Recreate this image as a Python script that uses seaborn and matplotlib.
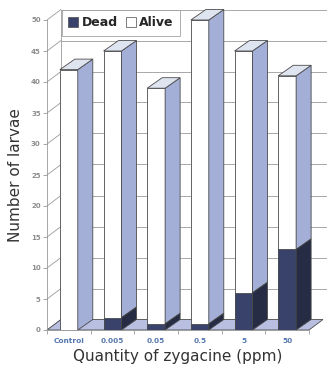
import matplotlib
matplotlib.use("Agg")
import matplotlib.pyplot as plt
from matplotlib.patches import Polygon, Patch
import numpy as np
import pandas as pd
import seaborn as sns

# Larvae counts per zygacine dose
doses = ["Control", "0.005", "0.05", "0.5", "5", "50"]
dead = [0, 2, 1, 1, 6, 13]
alive = [42, 43, 38, 49, 39, 28]
y_ticks = [0, 5, 10, 15, 20, 25, 30, 35, 40, 45, 50]

df = pd.DataFrame({"dose": doses, "dead": dead, "alive": alive})
df["total"] = df["dead"] + df["alive"]

sns.set_style("white")
plt.rcParams["font.family"] = ["DejaVu Sans"]

W, H = 327, 372
fig = plt.figure(figsize=(W / 100, H / 100), dpi=100)
# front plane of the 3-D box in pixels
x0, x1, yb, yt = 47, 309, 330, 20
ax = fig.add_axes([x0 / W, 1 - yb / H, (x1 - x0) / W, (yb - yt) / H])
ax.set_xlim(-0.5, 5.5)
ax.set_ylim(0, 50)

# depth offset of the box in data units
px_x = 6.0 / (x1 - x0)
px_y = 50.0 / (yb - yt)
DX, DY = 14 * px_x, 10.5 * px_y
# bar depth offset
BX, BY = 15 * px_x, 10.5 * px_y

grid_c = "#9a9a9a"
edge_c = "#4a4a4a"
side_alive = "#a4afd8"
top_alive = "#dfe5f0"
front_dead = "#38426a"
side_dead = "#262c44"
floor_c = "#b8bfe0"

xr = 5.5 + (W - x1) * px_x  # back wall reaches the figure edge

# floor
ax.add_patch(Polygon([(-0.5, 0), (5.5, 0), (5.5 + DX, DY), (-0.5 + DX, DY)],
                     closed=True, facecolor=floor_c, edgecolor=edge_c,
                     lw=0.6, zorder=0.5, clip_on=False))
# walls: diagonal lines on the left wall and horizontal lines on the back wall
for v in y_ticks:
    ax.plot([-0.5, -0.5 + DX], [v, v + DY], color=grid_c, lw=0.6,
            clip_on=False, zorder=0.4)
    if v > 0:
        ax.plot([-0.5 + DX, xr], [v + DY, v + DY], color=grid_c, lw=0.6,
                clip_on=False, zorder=0.4)
ax.plot([-0.5 + DX, -0.5 + DX], [DY, 50 + DY], color=grid_c, lw=0.6,
        clip_on=False, zorder=0.4)

# front faces through seaborn (alive stacked on dead)
sns.barplot(data=df, x="dose", y="total", color="white", saturation=1,
            width=0.41, edgecolor=edge_c, linewidth=0.6, ax=ax, zorder=2)
sns.barplot(data=df, x="dose", y="dead", color=front_dead, saturation=1,
            width=0.41, edgecolor=edge_c, linewidth=0.6, ax=ax, zorder=3)
total_bars = list(ax.containers[0])
dead_bars = list(ax.containers[1])

for tb, db in zip(total_bars, dead_bars):
    xl = tb.get_x()
    xrb = xl + tb.get_width()
    h_tot = tb.get_height()
    h_dead = db.get_height()
    # alive side and top
    ax.add_patch(Polygon([(xrb, h_dead), (xrb + BX, h_dead + BY),
                          (xrb + BX, h_tot + BY), (xrb, h_tot)],
                         facecolor=side_alive, edgecolor=edge_c, lw=0.6,
                         zorder=2.5, clip_on=False))
    ax.add_patch(Polygon([(xl, h_tot), (xl + BX, h_tot + BY),
                          (xrb + BX, h_tot + BY), (xrb, h_tot)],
                         facecolor=top_alive, edgecolor=edge_c, lw=0.6,
                         zorder=2.5, clip_on=False))
    if h_dead > 0:
        ax.add_patch(Polygon([(xrb, 0), (xrb + BX, BY),
                              (xrb + BX, h_dead + BY), (xrb, h_dead)],
                             facecolor=side_dead, edgecolor=edge_c, lw=0.6,
                             zorder=3.5, clip_on=False))

# axes styling
for s in ["top", "right"]:
    ax.spines[s].set_visible(False)
ax.spines["left"].set_color(grid_c)
ax.spines["bottom"].set_color(grid_c)
ax.spines["left"].set_linewidth(0.6)
ax.spines["bottom"].set_linewidth(0.6)
ax.spines["left"].set_zorder(0.6)
ax.set_yticks(y_ticks)
ax.set_yticklabels([str(v) for v in y_ticks], fontsize=5, fontweight="bold",
                   color="#8c8c8c")
ax.tick_params(axis="y", left=True, length=3, width=0.6, color=grid_c, pad=1.5)
ax.set_xticks(range(len(doses)))
ax.set_xticklabels(doses, fontsize=5.3, fontweight="bold", color="#5577b0")
ax.set_xticks(np.arange(-0.5, 5.6, 1.0), minor=True)
ax.tick_params(axis="x", which="major", length=0, pad=6)
ax.tick_params(axis="x", which="minor", bottom=True, length=3, width=0.6,
               color=grid_c)
ax.set_facecolor("none")

ax.set_ylabel("Number of larvae", fontsize=11, color="#333333", labelpad=6)
ax.set_xlabel("Quantity of zygacine (ppm)", fontsize=11, color="#333333",
              labelpad=3)

handles = [Patch(facecolor=front_dead, edgecolor=edge_c, lw=0.5),
           Patch(facecolor="white", edgecolor=edge_c, lw=0.5)]
leg = ax.legend(handles, ["Dead", "Alive"], ncol=2, loc="upper left",
                bbox_to_anchor=((62 - x0) / (x1 - x0), 1 + 10 / (yb - yt)),
                frameon=True, fancybox=False, handlelength=0.8,
                handleheight=0.8, handletextpad=0.3, columnspacing=0.6,
                borderpad=0.5, borderaxespad=0,
                prop={"weight": "bold", "size": 9})
leg.get_frame().set_edgecolor(grid_c)
leg.get_frame().set_linewidth(0.7)
leg.set_zorder(5)

fig.savefig("out.png", dpi=100)
